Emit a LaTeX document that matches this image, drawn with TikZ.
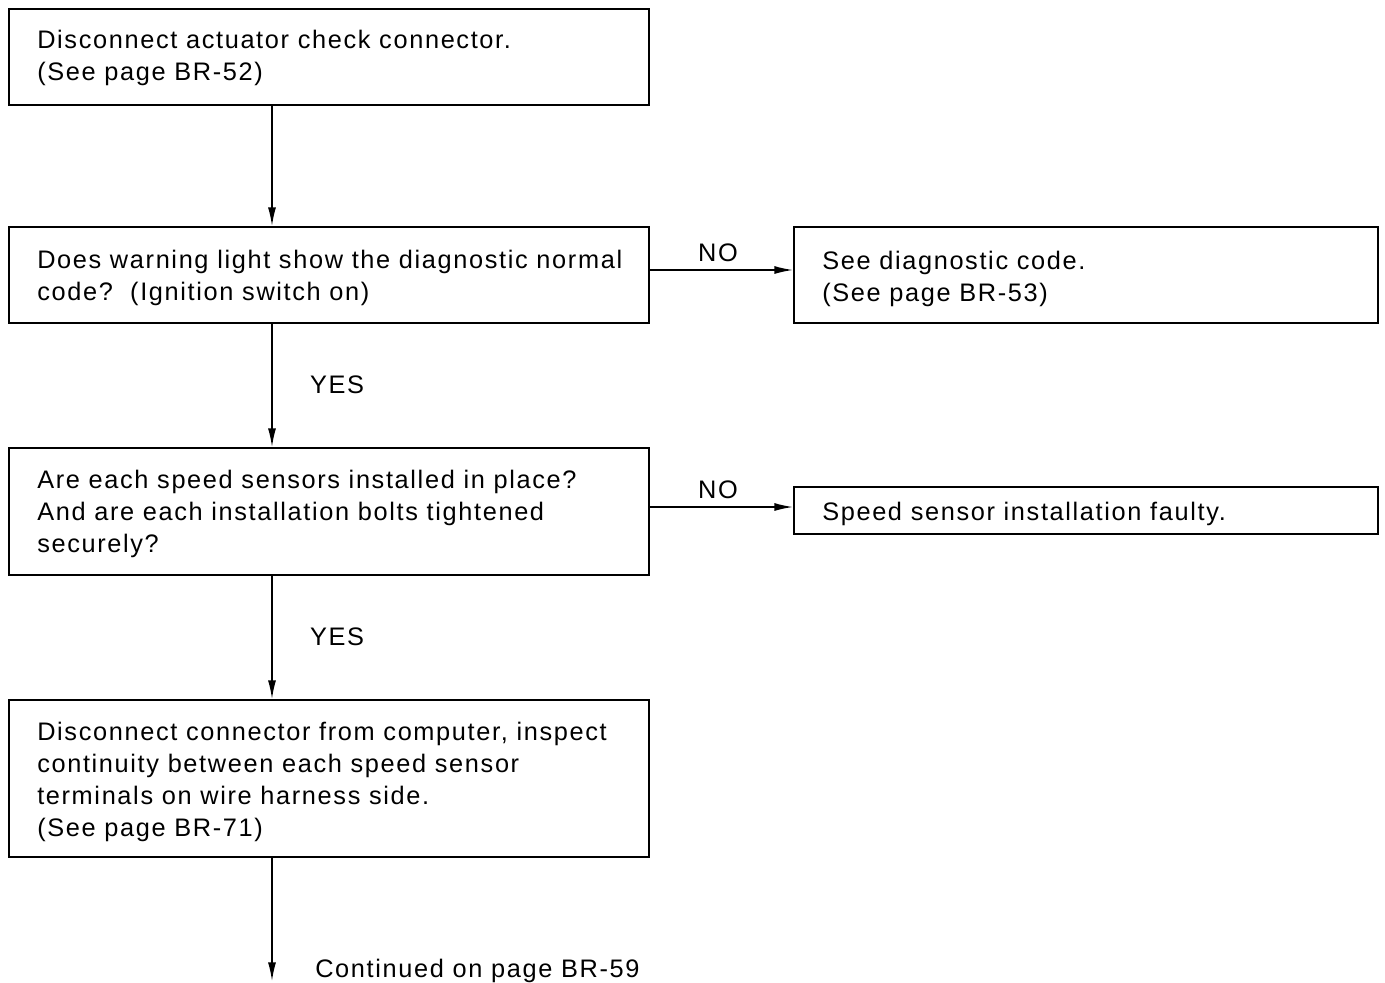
\documentclass[tikz,border=0pt]{standalone}
\usepackage{fontspec}
\setmainfont[LetterSpace=6.5]{Liberation Sans}
\usetikzlibrary{arrows.meta}
\begin{document}
\begin{tikzpicture}[x=0.75pt,y=-0.75pt,
  box/.style={draw, line width=1.2pt, rectangle, inner sep=0pt, anchor=north west},
  txt/.style={anchor=base west, inner sep=0pt, align=left, font=\fontsize{19pt}{24pt}\selectfont},
  lbl/.style={anchor=base, inner sep=0pt, font=\fontsize{19pt}{24pt}\selectfont},
  arr/.style={line width=1.1pt, -{Latex[length=14pt,width=6pt]}}]
\useasboundingbox (0,0) rectangle (1385,982);
% boxes
\node[box, minimum width=640*0.75pt, minimum height=96*0.75pt] (b1) at (8,8) {};
\node[box, minimum width=640*0.75pt, minimum height=96*0.75pt] (b2) at (8,226) {};
\node[box, minimum width=584*0.75pt, minimum height=96*0.75pt] (b3) at (793,226) {};
\node[box, minimum width=640*0.75pt, minimum height=127*0.75pt] (b4) at (8,447) {};
\node[box, minimum width=584*0.75pt, minimum height=47*0.75pt] (b5) at (793,486) {};
\node[box, minimum width=640*0.75pt, minimum height=157*0.75pt] (b6) at (8,699) {};
% texts (anchored at the baseline of the last line)
\node[txt] (t1) at (37,80) {Disconnect actuator check connector.\\(See page BR-52)};
\node[txt] (t2) at (37,300) {Does warning light show the diagnostic normal\\code?\ \ (Ignition switch on)};
\node[txt] (t3) at (822,301) {See diagnostic code.\\(See page BR-53)};
\node[txt] (t4) at (37,552) {Are each speed sensors installed in place?\\And are each installation bolts tightened\\securely?};
\node[txt] (t5) at (822,520) {Speed sensor installation faulty.};
\node[txt] (t6) at (37,836) {Disconnect connector from computer, inspect\\continuity between each speed sensor\\terminals on wire harness side.\\(See page BR-71)};
% labels
\node[lbl] (no1) at (718,261) {NO};
\node[lbl] (no2) at (718,498) {NO};
\node[lbl] (yes1) at (337,393) {YES};
\node[lbl] (yes2) at (337,645) {YES};
\node[txt] (cont) at (315,977) {Continued on page BR-59};
% connectors
\coordinate (end) at (272,981);
\draw[arr] (b1.south west -| 272,0) -- (b2.north west -| 272,0);
\draw[arr] (b2.south west -| 272,0) -- (b4.north west -| 272,0);
\draw[arr] (b4.south west -| 272,0) -- (b6.north west -| 272,0);
\draw[arr] (b6.south west -| 272,0) -- (end);
\draw[arr] (b2.east |- 0,270) -- (b3.west |- 0,270);
\draw[arr] (b4.east |- 0,507) -- (b5.west |- 0,507);
\end{tikzpicture}
\end{document}
